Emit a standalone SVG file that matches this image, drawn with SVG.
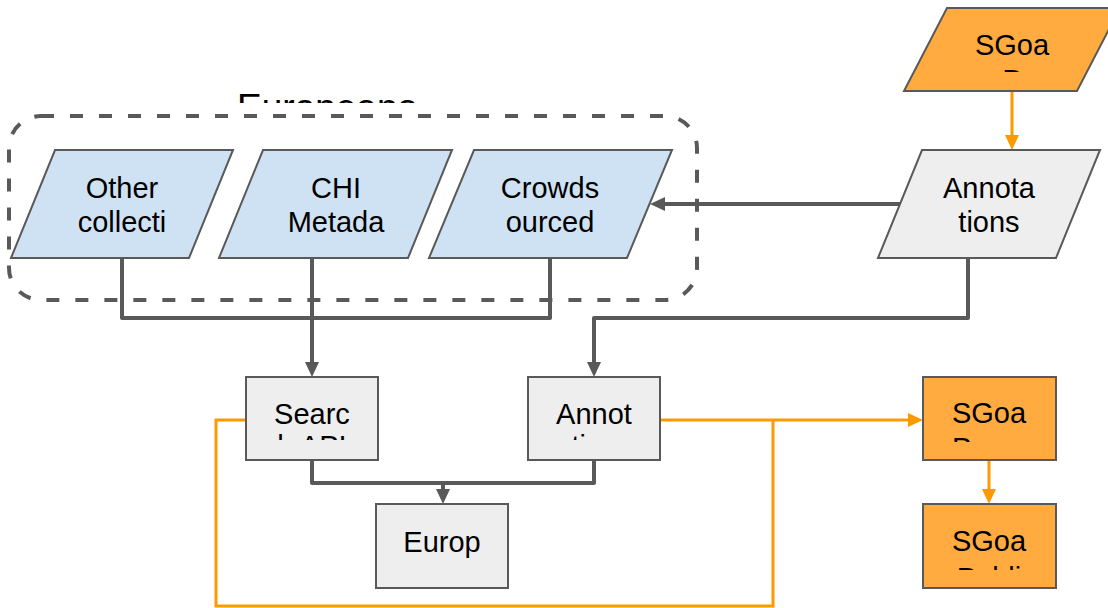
<svg xmlns="http://www.w3.org/2000/svg" width="1108" height="608" viewBox="0 0 1108 608">
  <style>
    .txt { font-family: "Liberation Sans", Arial, sans-serif; font-size: 29px; fill: #000000; text-anchor: middle; }
    .big { font-family: "Liberation Sans", Arial, sans-serif; font-size: 37px; fill: #000000; }
    .blue { fill: #cfe2f3; stroke: #595959; stroke-width: 2; }
    .grey { fill: #eeeeee; stroke: #595959; stroke-width: 2; }
    .orange { fill: #ffab40; stroke: #595959; stroke-width: 2; }
    .link { fill: none; stroke: #595959; stroke-width: 4; stroke-linejoin: round; }
    .olink { fill: none; stroke: #ff9900; stroke-width: 3; stroke-linejoin: miter; }
    .group { fill: none; stroke: #595959; stroke-width: 4; stroke-dasharray: 13 16; }
  </style>
  <defs>
    <marker id="arrowGrey" viewBox="0 0 15 14" refX="3" refY="7" markerWidth="15" markerHeight="14" markerUnits="userSpaceOnUse" orient="auto">
      <path d="M0,0 L15,7 L0,14 z" fill="#595959"/>
    </marker>
    <marker id="arrowOrange" viewBox="0 0 15 14" refX="3" refY="7" markerWidth="15" markerHeight="14" markerUnits="userSpaceOnUse" orient="auto">
      <path d="M0,0 L15,7 L0,14 z" fill="#ff9900"/>
    </marker>
    <clipPath id="clipGroupLabel"><rect x="200" y="80" width="260" height="23"/></clipPath>
    <clipPath id="clipSgoalTop"><rect x="900" y="8" width="208" height="64"/></clipPath>
    <clipPath id="clipSearch"><rect x="246" y="377" width="132" height="63"/></clipPath>
    <clipPath id="clipAnnot"><rect x="528" y="377" width="132" height="63"/></clipPath>
    <clipPath id="clipSgoalMid"><rect x="923" y="377" width="133" height="65"/></clipPath>
    <clipPath id="clipSgoalBottom"><rect x="923" y="504" width="133" height="66"/></clipPath>
  </defs>

  <!-- dashed grouping around the source collections -->
  <g id="europeana-group">
    <rect class="group" x="9" y="116" width="688" height="184" rx="32" ry="32"/>
    <text class="big" x="237" y="120" clip-path="url(#clipGroupLabel)">Europeana</text>
  </g>

  <!-- connectors -->
  <g id="connectors">
    <path class="link" d="M122,258 V318 H550 V258"/>
    <path class="link" d="M312,258 V365" marker-end="url(#arrowGrey)"/>
    <path class="link" d="M968,258 V318 H594 V365" marker-end="url(#arrowGrey)"/>
    <path class="link" d="M900,204 H662" marker-end="url(#arrowGrey)"/>
    <path class="link" d="M312,460 V483 H594 V460"/>
    <path class="link" d="M443,483 V492" marker-end="url(#arrowGrey)"/>
    <path class="olink" d="M1012,91 V138" marker-end="url(#arrowOrange)"/>
    <path class="olink" d="M660,420 H911" marker-end="url(#arrowOrange)"/>
    <path class="olink" d="M246,420 H216 V606 H773 V420"/>
    <path class="olink" d="M989,460 V492" marker-end="url(#arrowOrange)"/>
  </g>

  <g id="other-collections">
    <polygon class="blue" points="55,150 233,150 189,258 11,258"/>
    <text class="txt" x="122" y="198">Other</text>
    <text class="txt" x="122" y="232">collecti</text>
  </g>

  <g id="chi-metadata">
    <polygon class="blue" points="263,150 452,150 408,258 219,258"/>
    <text class="txt" x="336" y="198">CHI</text>
    <text class="txt" x="336" y="232">Metada</text>
  </g>

  <g id="crowdsourced">
    <polygon class="blue" points="474,150 672,150 627,258 429,258"/>
    <text class="txt" x="550" y="198">Crowds</text>
    <text class="txt" x="550" y="232">ourced</text>
  </g>

  <g id="annotations">
    <polygon class="grey" points="922,150 1100,150 1056,258 878,258"/>
    <text class="txt" x="989" y="198">Annota</text>
    <text class="txt" x="989" y="232">tions</text>
  </g>

  <g id="sgoal-top">
    <polygon class="orange" points="947,8 1120,8 1077,91 904,91"/>
    <g clip-path="url(#clipSgoalTop)">
      <text class="txt" x="1012" y="55">SGoa</text>
      <text class="txt" x="1012" y="90">P</text>
    </g>
  </g>

  <g id="search-api">
    <rect class="grey" x="246" y="377" width="132" height="83"/>
    <g clip-path="url(#clipSearch)">
      <text class="txt" x="312" y="424">Searc</text>
      <text class="txt" x="312" y="456">h API</text>
    </g>
  </g>

  <g id="annotation-api">
    <rect class="grey" x="528" y="377" width="132" height="83"/>
    <g clip-path="url(#clipAnnot)">
      <text class="txt" x="594" y="424">Annot</text>
      <text class="txt" x="594" y="456">ations</text>
    </g>
  </g>

  <g id="europeana">
    <rect class="grey" x="376" y="504" width="132" height="84"/>
    <text class="txt" x="442" y="552">Europ</text>
  </g>

  <g id="sgoal-proxy">
    <rect class="orange" x="923" y="377" width="133" height="83"/>
    <g clip-path="url(#clipSgoalMid)">
      <text class="txt" x="989" y="423">SGoa</text>
      <text class="txt" x="989" y="458">Proxy</text>
    </g>
  </g>

  <g id="sgoal-publisher">
    <rect class="orange" x="923" y="504" width="133" height="84"/>
    <g clip-path="url(#clipSgoalBottom)">
      <text class="txt" x="989" y="551">SGoa</text>
      <text class="txt" x="989" y="588">Publi</text>
    </g>
  </g>
</svg>
